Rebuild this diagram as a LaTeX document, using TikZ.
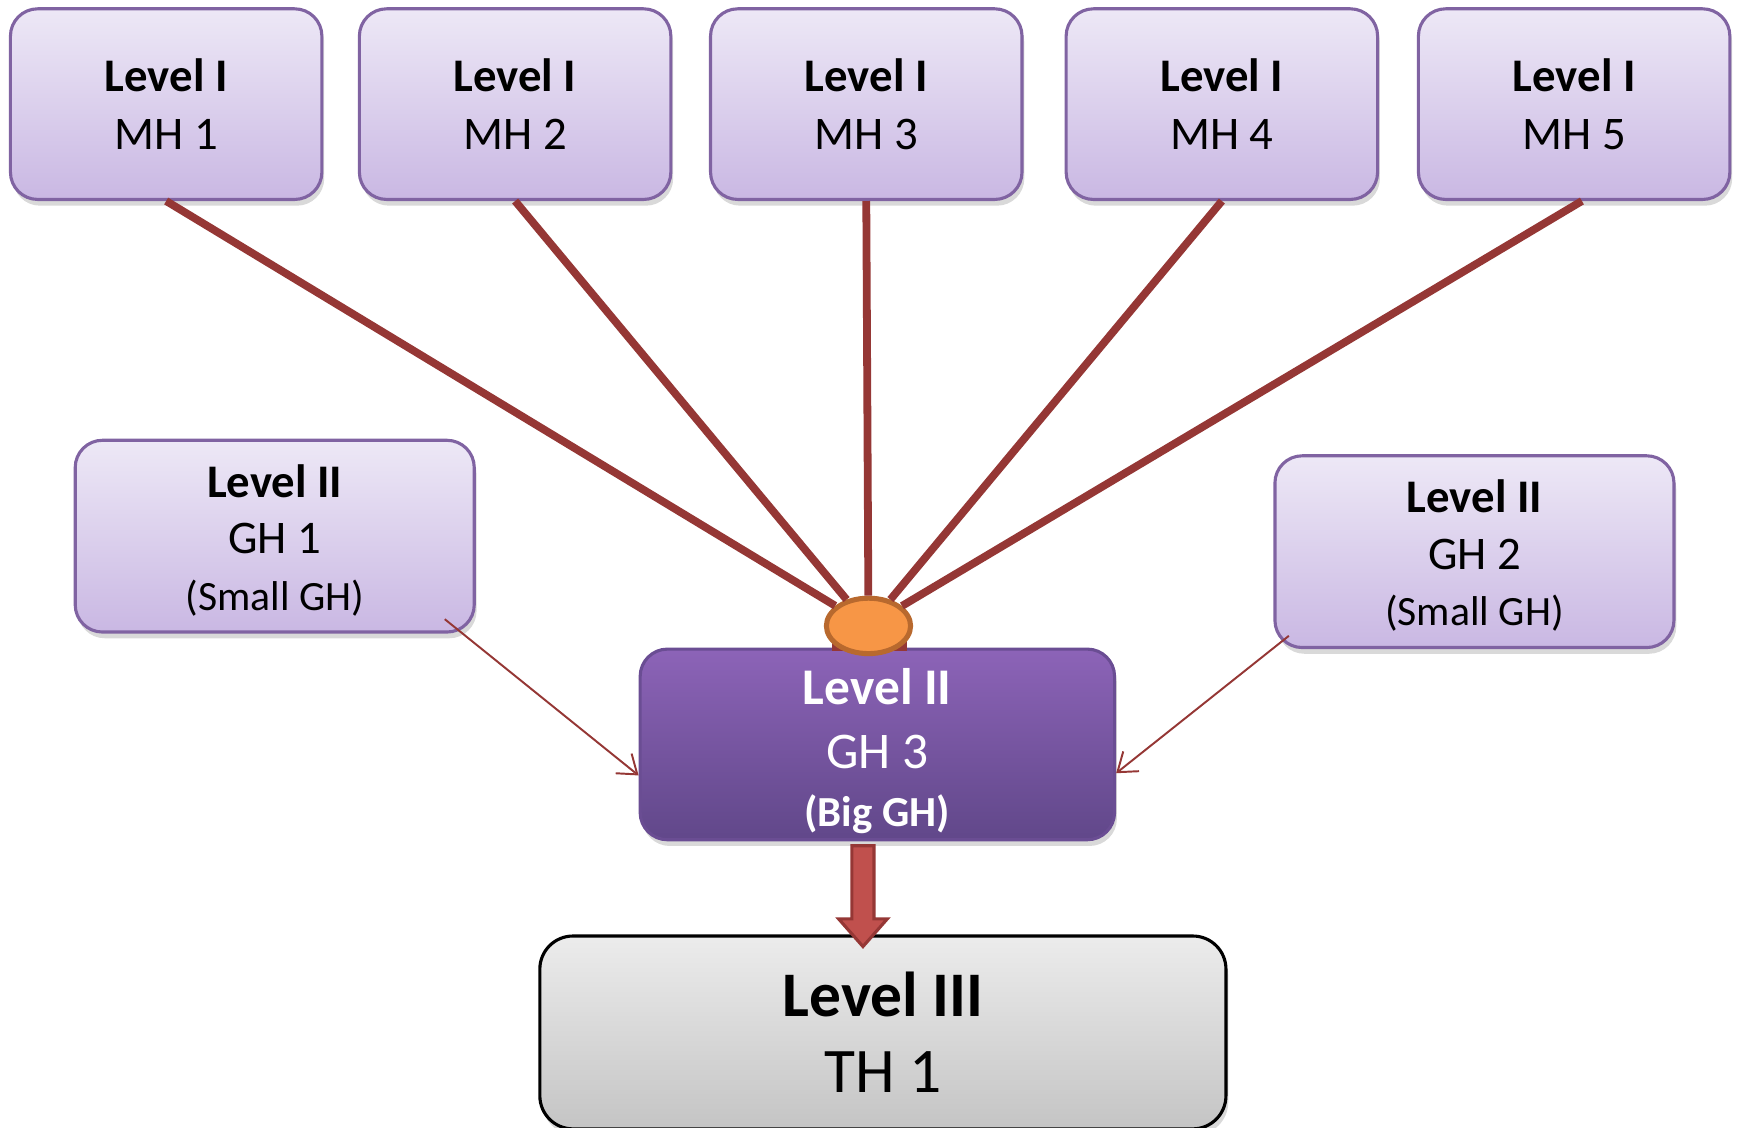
\documentclass[tikz,border=0pt]{standalone}
\usepackage{fontspec}
\setmainfont{Carlito}
\usetikzlibrary{calc,shadows,arrows.meta,shapes.geometric}
\definecolor{BoxTopClr}{rgb}{0.93,0.91,0.965}
\definecolor{BoxBotClr}{rgb}{0.79,0.72,0.89}
\definecolor{BoxLineClr}{rgb}{0.5,0.39,0.635}
\definecolor{BigTopClr}{rgb}{0.55,0.39,0.72}
\definecolor{BigBotClr}{rgb}{0.38,0.28,0.54}
\definecolor{GreyTopClr}{rgb}{0.925,0.925,0.925}
\definecolor{GreyBotClr}{rgb}{0.77,0.77,0.77}
\definecolor{LinkClr}{rgb}{0.584,0.216,0.208}
\definecolor{HubClr}{rgb}{0.969,0.588,0.275}
\definecolor{HubLineClr}{rgb}{0.72,0.41,0.18}
\definecolor{ArrowClr}{rgb}{0.753,0.314,0.302}

\begin{document}
\begin{tikzpicture}[x=0.01cm,y=-0.01cm,
  box/.style={rounded corners=7pt,line width=0.8pt,align=center,inner sep=0pt,
    drop shadow={shadow xshift=0.6pt,shadow yshift=-1.6pt,opacity=0.3}},
  mhbox/.style={box,draw=BoxLineClr,top color=BoxTopClr,bottom color=BoxBotClr,
    minimum width=2.81cm,minimum height=1.72cm,font=\fontsize{12}{14.8}\selectfont},
  ghbox/.style={box,draw=BoxLineClr,top color=BoxTopClr,bottom color=BoxBotClr,
    minimum width=3.6cm,minimum height=1.73cm,font=\fontsize{12}{14.5}\selectfont},
  bigbox/.style={box,draw=BigBotClr!80!BigTopClr,top color=BigTopClr,bottom color=BigBotClr,
    text=white,minimum width=4.28cm,minimum height=1.72cm,font=\fontsize{13.2}{14.8}\selectfont},
  thbox/.style={box,rounded corners=8.5pt,draw=black,top color=GreyTopClr,bottom color=GreyBotClr,
    minimum width=6.19cm,minimum height=1.74cm,font=\fontsize{16.3}{19.6}\selectfont},
  hub/.style={ellipse,draw=HubLineClr,line width=1.3pt,fill=HubClr,
    minimum width=0.76cm,minimum height=0.5cm,inner sep=0pt},
  spoke/.style={draw=LinkClr,line width=2pt},
  feed/.style={draw=LinkClr,line width=0.5pt,-{Straight Barb[length=4.5pt,width=6.5pt]}},
  downarrow/.style={fill=ArrowClr,draw=LinkClr,line width=0.8pt}]

\useasboundingbox (0,0) rectangle (1568,1018);

\node[mhbox] (mh1) at (150,94) {\textbf{Level I}\\MH 1};
\node[mhbox] (mh2) at (465,94) {\textbf{Level I}\\MH 2};
\node[mhbox] (mh3) at (782,94) {\textbf{Level I}\\MH 3};
\node[mhbox] (mh4) at (1103,94) {\textbf{Level I}\\MH 4};
\node[mhbox] (mh5) at (1421,94) {\textbf{Level I}\\MH 5};

\node[ghbox] (gh1) at (248,484) {\rule{0pt}{13pt}\textbf{Level II}\\GH 1\\{\fontsize{10.7}{14.5}\selectfont (Small GH)}\rule[-4pt]{0pt}{0pt}};
\node[ghbox] (gh2) at (1331,498) {\rule{0pt}{13pt}\textbf{Level II}\\GH 2\\{\fontsize{10.7}{14.5}\selectfont (Small GH)}\rule[-4pt]{0pt}{0pt}};
\node[bigbox] (gh3) at (792,672) {\rule{0pt}{13.8pt}\textbf{Level II}\\[1.7pt]GH 3\\{\bfseries\fontsize{11}{14.8}\selectfont (Big GH)}\rule[-3pt]{0pt}{0pt}};
\node[thbox] (th1) at (797,932) {\textbf{Level III}\\TH 1};

\fill[LinkClr] (751,578) rectangle (819,588);
\node[hub] (hub) at (784,565) {};

\draw[spoke] (mh1.south) -- (hub);
\draw[spoke] (mh2.south) -- (hub);
\draw[spoke] (mh3.south) -- (hub);
\draw[spoke] (mh4.south) -- (hub);
\draw[spoke] ($(mh5.south)+(7,0)$) -- (hub);

\draw[feed] ($(gh1.south east)+(-28,-13)$) -- ($(gh3.west)+(0,28)$);
\draw[feed] ($(gh2.south west)+(14,-12)$) -- ($(gh3.east)+(0,26)$);

\coordinate (dn) at ($(gh3.south)+(-13,0)$);
\draw[downarrow] ($(dn)+(-10,4)$) -- ($(dn)+(10,4)$) -- ($(dn)+(10,70)$) -- ($(dn)+(22,70)$)
  -- ($(dn)+(0,95)$) -- ($(dn)+(-22,70)$) -- ($(dn)+(-10,70)$) -- cycle;

\end{tikzpicture}
\end{document}
